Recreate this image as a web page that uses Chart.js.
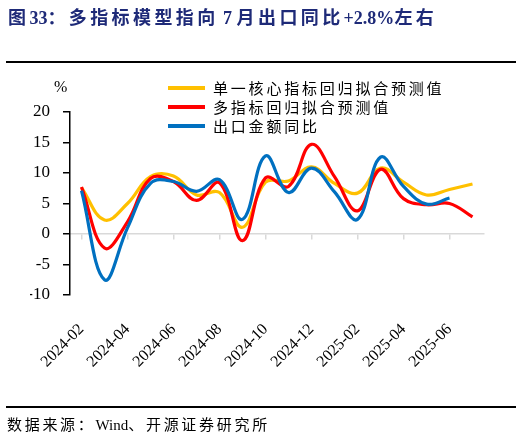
<!DOCTYPE html>
<html>
<head>
<meta charset="utf-8">
<script src="https://cdn.jsdelivr.net/npm/chart.js@4.4.1/dist/chart.umd.min.js"></script>
<style>
  body { margin: 0; background: #fff; }
  #page { position: relative; width: 522px; height: 436px; overflow: hidden; }
  #title { position: absolute; left: 8px; top: 3px; font: bold 18px "Liberation Serif", "Noto Sans CJK SC", serif; letter-spacing: 3.4px; color: #1e2a78; white-space: nowrap; }
  .lat { letter-spacing: 0; }
  .rule { position: absolute; left: 6px; width: 510px; height: 2px; background: #000; }
  #wrap { position: absolute; left: 0; top: 0; width: 522px; height: 436px; }
  #unit { position: absolute; left: 54px; top: 78px; font: 16px "Liberation Serif", serif; color: #000; }
  #legend { position: absolute; left: 168px; top: 78px; }
  .item { height: 19px; display: flex; align-items: center; }
  .swatch { width: 37px; height: 4px; margin-right: 8px; }
  .item span { font: 15px "Noto Sans CJK SC", sans-serif; letter-spacing: 2.8px; color: #000; }
  #source { position: absolute; left: 7px; top: 413px; font: 15px "Liberation Serif", "Noto Sans CJK SC", serif; letter-spacing: 2.7px; color: #000; white-space: nowrap; }
</style>
</head>
<body>
<div id="page">
  <div id="wrap"><canvas id="chart" width="522" height="436"></canvas></div>
  <div id="title">图<span class="lat">33</span>：多指标模型指向<span class="lat"> 7 </span>月出口同比<span class="lat">+2.8%</span>左右</div>
  <div class="rule" style="top:61px"></div>
  <div id="unit">%</div>
  <div id="legend"></div>
  <div class="rule" style="top:406px"></div>
  <div id="source">数据来源：<span class="lat">Wind</span>、开源证券研究所</div>
</div>
<script>
const months = ['2024-02', '2024-03', '2024-04', '2024-05', '2024-06', '2024-07', '2024-08', '2024-09', '2024-10',
                '2024-11', '2024-12', '2025-01', '2025-02', '2025-03', '2025-04', '2025-05', '2025-06', '2025-07'];
const singleModel = [7.6, 2.3, 5.0, 9.4, 9.5, 6.4, 6.8, 1.1, 8.5, 8.7, 11.0, 8.3, 6.7, 10.8, 8.5, 6.4, 7.3, 8.2];
const multiModel  = [7.7, -2.3, 2.0, 9.1, 8.6, 5.5, 8.4, -1.1, 9.2, 7.8, 14.7, 9.4, 3.8, 10.6, 5.8, 4.8, 5.0, 2.8];
const exportYoY   = [7.1, -7.5, 1.0, 8.3, 8.6, 7.0, 8.9, 2.4, 12.8, 6.8, 10.8, 6.9, 2.4, 12.6, 7.8, 4.9, 5.9, null];
const yTicks = [-10, -5, 0, 5, 10, 15, 20];

const series = [
  { label: '单一核心指标回归拟合预测值', data: singleModel, color: '#FFC000', order: 3 },
  { label: '多指标回归拟合预测值',       data: multiModel,  color: '#FF0000', order: 2 },
  { label: '出口金额同比',               data: exportYoY,   color: '#0070C0', order: 1 }
];

// legend sits inside the plot, so it is plain html
const legend = document.getElementById('legend');
series.forEach(s => {
  const row = document.createElement('div');
  row.className = 'item';
  row.innerHTML = '<div class="swatch" style="background:' + s.color + '"></div><span>' + s.label + '</span>';
  legend.appendChild(row);
});

new Chart(document.getElementById('chart').getContext('2d'), {
  type: 'line',
  data: {
    labels: months,
    datasets: series.map(s => ({
      label: s.label, data: s.data, borderColor: s.color, backgroundColor: s.color,
      borderWidth: 3.2, pointRadius: 0, tension: 0.4, fill: false, order: s.order, xAxisID: 'x'
    }))
  },
  options: {
    responsive: false,
    animation: false,
    devicePixelRatio: 1,
    layout: { padding: { left: 30, right: 38, top: 112, bottom: 61 } },
    plugins: { legend: { display: false }, tooltip: { enabled: false } },
    scales: {
      x: {
        position: 'bottom',
        offset: true,
        grid: { display: false },
        border: { display: false },
        afterFit: s => { s.height = 80; },
        ticks: {
          autoSkip: false, minRotation: 45, maxRotation: 45, padding: 17, color: '#000',
          font: { family: 'Liberation Serif', size: 16 },
          callback: (v, i) => (i % 2 === 0 ? months[i] : '')
        }
      },
      x0: {
        type: 'category',
        labels: months,
        position: { y: 0 },
        offset: true,
        grid: {
          drawOnChartArea: false, drawTicks: true, tickLength: 5, lineWidth: 1.5,
          color: ctx => (ctx.type === 'scale' || ctx.index % 2 === 0 ? '#d9d9d9' : 'rgba(0,0,0,0)')
        },
        border: { color: '#d9d9d9', width: 1.5 },
        ticks: { display: false }
      },
      y: {
        min: -10, max: 20,
        afterFit: s => { s.width = 40; },
        afterBuildTicks: s => { s.ticks = yTicks.map(v => ({ value: v })); },
        grid: { drawOnChartArea: false, drawTicks: true, tickLength: 7, color: '#000', lineWidth: 1.5 },
        border: { color: '#000', width: 1.5 },
        ticks: { padding: 13, color: '#000', font: { family: 'Liberation Serif', size: 17 } }
      }
    }
  }
});
</script>
</body>
</html>
